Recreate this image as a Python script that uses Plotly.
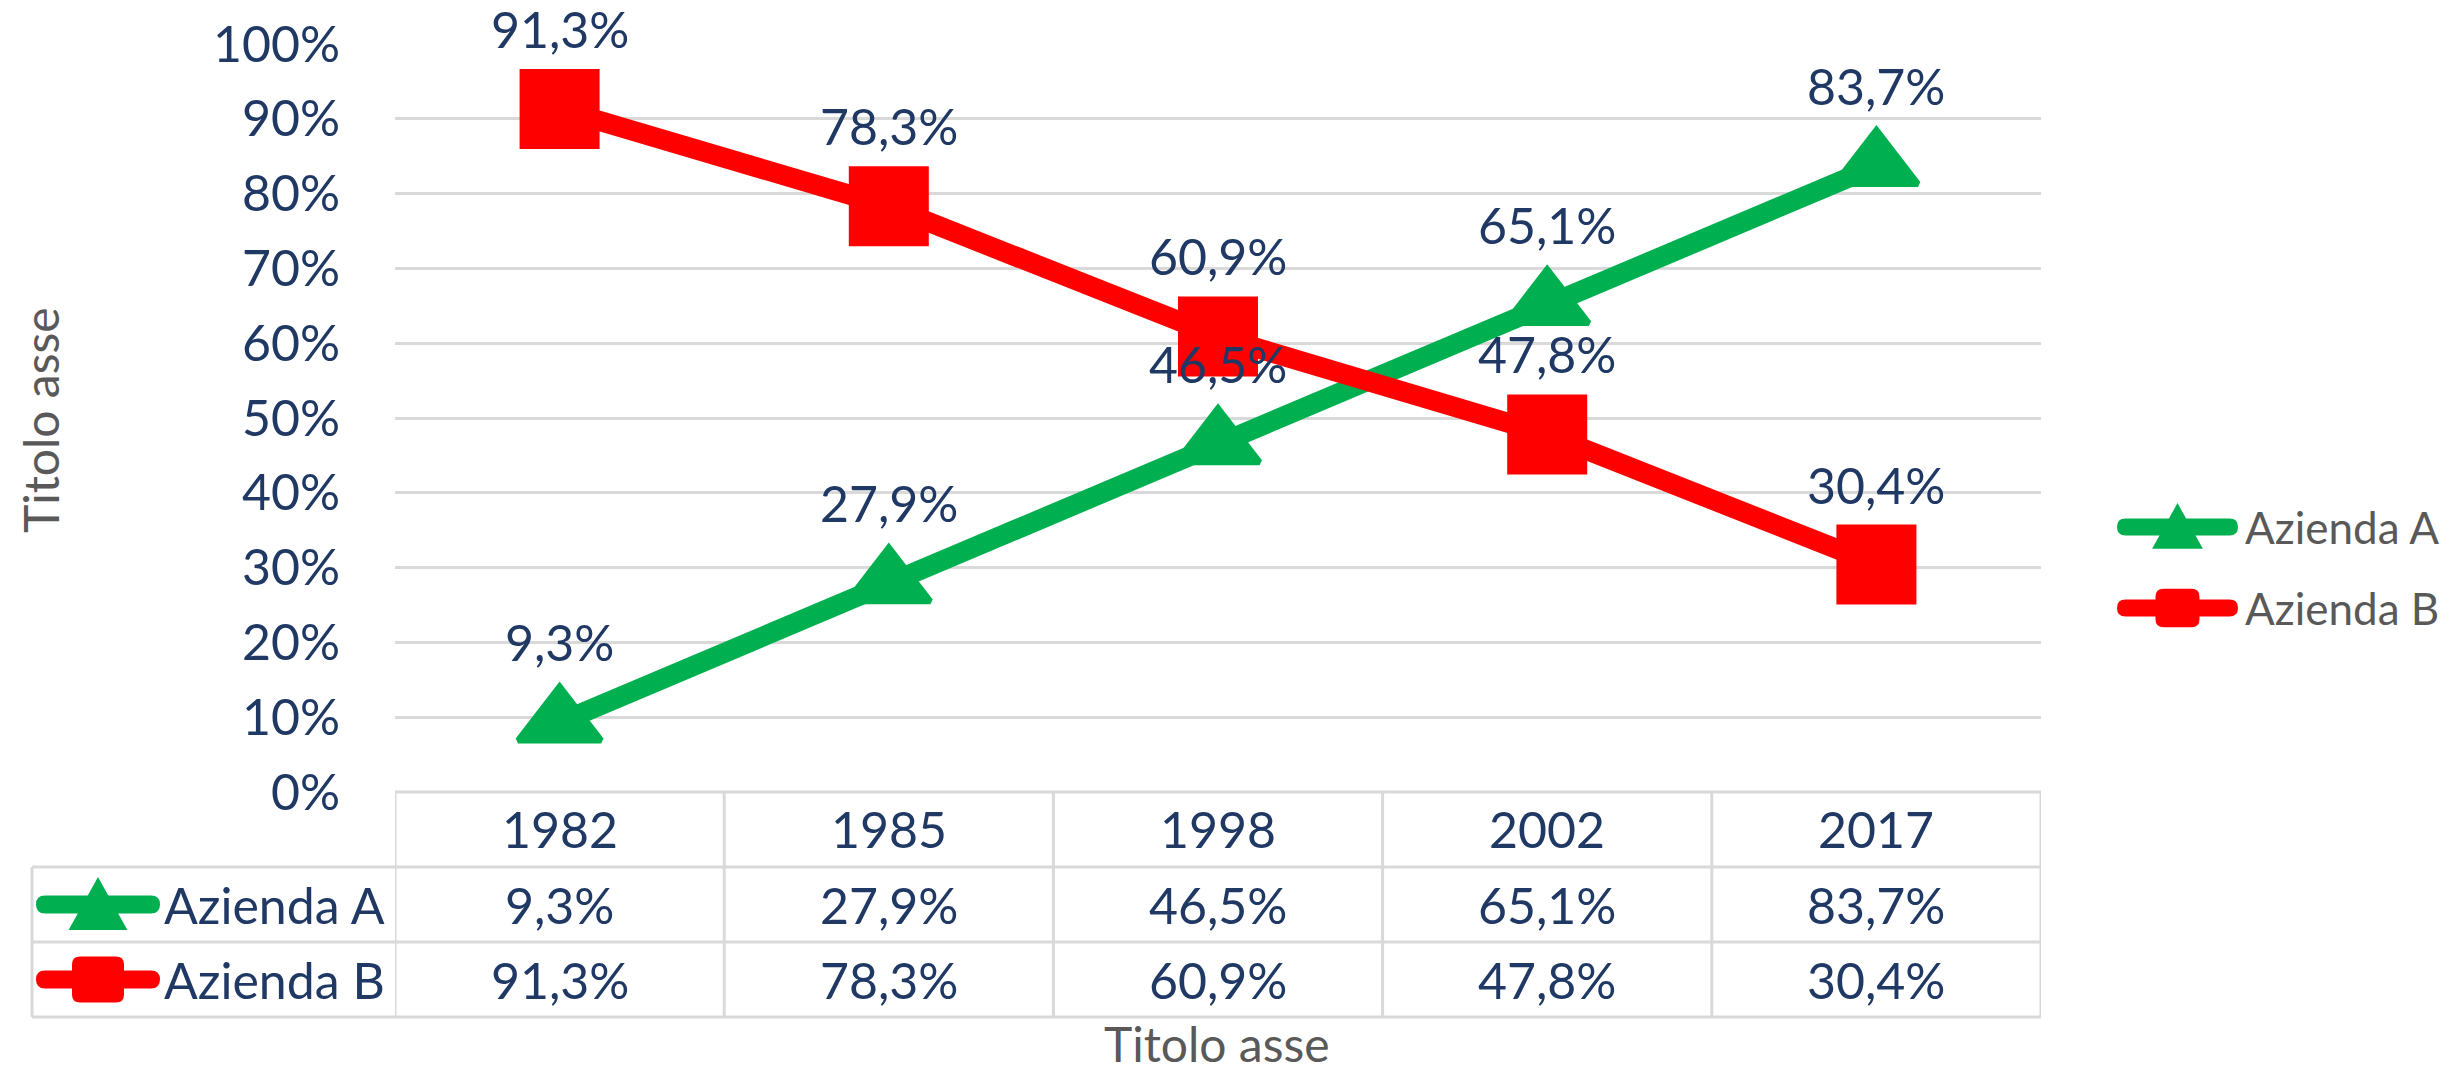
import plotly.graph_objects as go

# ---------------- data ----------------
years = ["1982", "1985", "1998", "2002", "2017"]
azienda_a = [9.3, 27.9, 46.5, 65.1, 83.7]
azienda_b = [91.3, 78.3, 60.9, 47.8, 30.4]
series_names = ["Azienda A", "Azienda B"]
y_ticks = [0, 10, 20, 30, 40, 50, 60, 70, 80, 90, 100]
axis_title = "Titolo asse"

# ---------------- style ----------------
W, H = 2450, 1075
L, R, T, B = 395, 2041, 44, 792          # plot area in pixels
PW, PH = R - L, B - T
NAVY = "#1F3864"
GRAY = "#595959"
GRID = "#D9D9D9"
GREEN = "#00B050"
RED = "#FF0000"
FONT = "Lato"
FS = 50
colors = [GREEN, RED]
symbols = ["triangle-up", "square"]
series = [azienda_a, azienda_b]


def fmt(v):
    return ("%.1f" % v).replace(".", ",") + "%"


def px(x):
    return (x - L) / PW


def py(y):
    return (B - y) / PH


def P(x, y):
    return "%.5f,%.5f" % (px(x), py(y))


def bar_path(x1, x2, y, h):
    return ("M" + P(x1 + h, y - h) + " L" + P(x2 - h, y - h) +
            " Q" + P(x2, y - h) + " " + P(x2, y) +
            " Q" + P(x2, y + h) + " " + P(x2 - h, y + h) +
            " L" + P(x1 + h, y + h) +
            " Q" + P(x1, y + h) + " " + P(x1, y) +
            " Q" + P(x1, y - h) + " " + P(x1 + h, y - h) + " Z")


def square_path(cx, cy, w, hgt, r):
    x1, x2, y1, y2 = cx - w / 2, cx + w / 2, cy - hgt / 2, cy + hgt / 2
    return ("M" + P(x1 + r, y1) + " L" + P(x2 - r, y1) + " Q" + P(x2, y1) + " " + P(x2, y1 + r) +
            " L" + P(x2, y2 - r) + " Q" + P(x2, y2) + " " + P(x2 - r, y2) +
            " L" + P(x1 + r, y2) + " Q" + P(x1, y2) + " " + P(x1, y2 - r) +
            " L" + P(x1, y1 + r) + " Q" + P(x1, y1) + " " + P(x1 + r, y1) + " Z")


def tri_path(cx, cy, w, hgt):
    return ("M" + P(cx - w / 2, cy + hgt / 2) + " L" + P(cx + w / 2, cy + hgt / 2) +
            " L" + P(cx, cy - hgt / 2) + " Z")


fig = go.Figure()
for name, vals, col, sym in zip(series_names, series, colors, symbols):
    fig.add_trace(go.Scatter(
        x=years, y=vals, name=name, mode="lines+markers",
        line=dict(color=col, width=20),
        marker=dict(symbol=sym, size=72, color=col,
                    line=dict(color=col, width=8 if sym == "square" else 6)),
        cliponaxis=False, showlegend=False, hoverinfo="skip"))

annotations = []
# data labels
for vals in series:
    for i, v in enumerate(vals):
        annotations.append(dict(x=i, y=v, xref="x", yref="y", text=fmt(v), showarrow=False,
                                xanchor="center", yanchor="middle",
                                yshift=80, font=dict(family=FONT, size=FS, color=NAVY)))

# table geometry (pixels)
row_lines = [867, 942, 1017]
row_centers = [(B + 867) / 2, (867 + 942) / 2, (942 + 1017) / 2]
TL = 32

shapes = []
line_style = dict(color=GRID, width=3)
shapes.append(dict(type="line", xref="paper", yref="paper", x0=0, x1=1, y0=0, y1=0, line=line_style, layer="below"))
for ry in row_lines:
    shapes.append(dict(type="line", xref="paper", yref="paper", x0=px(TL), x1=1, y0=py(ry), y1=py(ry),
                       line=line_style))
for i in range(len(years) + 1):
    shapes.append(dict(type="line", xref="x", yref="paper", x0=i - 0.5, x1=i - 0.5, y0=0, y1=py(row_lines[-1]),
                       line=line_style))
shapes.append(dict(type="line", xref="paper", yref="paper", x0=px(TL), x1=px(TL), y0=py(row_lines[0]),
                   y1=py(row_lines[-1]), line=line_style))

# table texts
for i, yr in enumerate(years):
    annotations.append(dict(x=i, y=py(row_centers[0]), xref="x", yref="paper", text=yr, showarrow=False,
                            xanchor="center", yanchor="middle",
                            font=dict(family=FONT, size=FS, color=NAVY)))
for ri, vals in enumerate(series):
    for i, v in enumerate(vals):
        annotations.append(dict(x=i, y=py(row_centers[ri + 1]), xref="x", yref="paper", text=fmt(v),
                                xanchor="center", yanchor="middle",
                                showarrow=False, font=dict(family=FONT, size=FS, color=NAVY)))


def add_symbol(x1, x2, cy, thick, msize, col, sym):
    shapes.append(dict(type="path", xref="paper", yref="paper", path=bar_path(x1, x2, cy, thick / 2),
                       fillcolor=col, line=dict(width=0)))
    cx = (x1 + x2) / 2
    if sym == "square":
        shapes.append(dict(type="path", xref="paper", yref="paper",
                           path=square_path(cx, cy, msize, msize * 0.88, 8), fillcolor=col, line=dict(width=0)))
    else:
        shapes.append(dict(type="path", xref="paper", yref="paper",
                           path=tri_path(cx, cy, msize, msize * 0.9), fillcolor=col,
                           line=dict(color=col, width=4)))


# table row headers
for ri, (name, col, sym) in enumerate(zip(series_names, colors, symbols)):
    cy = row_centers[ri + 1]
    add_symbol(36, 160, cy, 18, 52, col, sym)
    annotations.append(dict(x=px(162), y=py(cy), xref="paper", yref="paper", xanchor="left", yanchor="middle",
                            text=name, showarrow=False, font=dict(family=FONT, size=FS, color=NAVY)))

# custom legend
legend_y = [527, 608]
for name, col, sym, ly in zip(series_names, colors, symbols, legend_y):
    add_symbol(2117, 2238, ly, 17, 44, col, sym)
    annotations.append(dict(x=px(2243), y=py(ly), xref="paper", yref="paper", xanchor="left", yanchor="middle",
                            text=name, showarrow=False, font=dict(family=FONT, size=44, color=GRAY)))

# axis titles
annotations.append(dict(x=px(40), y=py(420), xref="paper", yref="paper", text=axis_title, textangle=-90,
                        xanchor="center", yanchor="middle",
                        showarrow=False, font=dict(family=FONT, size=48, color=GRAY)))
annotations.append(dict(x=px(1217), y=py(1043), xref="paper", yref="paper", text=axis_title,
                        xanchor="center", yanchor="middle",
                        showarrow=False, font=dict(family=FONT, size=48, color=GRAY)))

fig.update_layout(
    width=W, height=H,
    margin=dict(l=L, r=W - R, t=T, b=H - B, pad=0),
    paper_bgcolor="white", plot_bgcolor="white",
    font=dict(family=FONT, color=NAVY),
    showlegend=False,
    xaxis=dict(type="category", categoryorder="array", categoryarray=years, range=[-0.5, len(years) - 0.5],
               showticklabels=False, showgrid=False, zeroline=False, showline=False, ticks=""),
    yaxis=dict(range=[0, 100], tickvals=y_ticks, ticktext=["%d%%" % t for t in y_ticks],
               showgrid=True, gridcolor=GRID, gridwidth=3, zeroline=False, showline=False, ticks="",
               ticklabelstandoff=54, tickfont=dict(family=FONT, size=FS, color=NAVY)),
    shapes=shapes,
    annotations=annotations,
)

fig.write_html("out.html", config={"displayModeBar": False},
               post_script="document.body.style.margin='0';document.body.style.overflow='hidden';")
